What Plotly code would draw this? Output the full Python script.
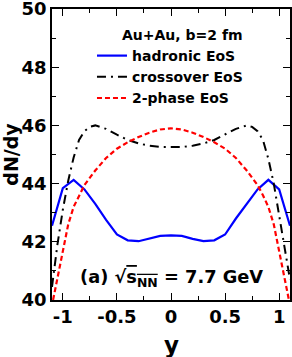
import plotly.graph_objects as go

# Rapidity grid and dN/dy values
y_had = [-1.1, -1.0, -0.9, -0.8, -0.7, -0.6, -0.5, -0.4, -0.3, -0.2, -0.1, 0.0,
         0.1, 0.2, 0.3, 0.4, 0.5, 0.6, 0.7, 0.8, 0.9, 1.0, 1.1]
dndy_had = [42.55, 43.84, 44.13, 43.8, 43.3, 42.75, 42.25, 42.05, 42.02, 42.1, 42.2, 42.22,
            42.2, 42.1, 42.02, 42.05, 42.25, 42.8, 43.3, 43.8, 44.13, 43.8, 42.55]

y_cross = [-1.1, -1.05, -1.0, -0.95, -0.9, -0.85, -0.8, -0.75, -0.7, -0.6, -0.5, -0.4, -0.3,
           -0.2, -0.1, 0.0, 0.1, 0.2, 0.3, 0.4, 0.5, 0.6, 0.7, 0.75, 0.8, 0.85, 0.9, 0.95,
           1.0, 1.05, 1.1]
dndy_cross = [40.45, 41.9, 43.1, 44.1, 44.9, 45.5, 45.8, 45.95, 46.0, 45.88, 45.68, 45.5, 45.38,
              45.3, 45.26, 45.25, 45.26, 45.3, 45.38, 45.5, 45.68, 45.88, 46.0, 45.95, 45.8,
              45.5, 44.85, 44.0, 42.9, 41.8, 40.7]

y_2ph = [-1.09, -1.05, -1.0, -0.95, -0.9, -0.85, -0.8, -0.7, -0.6, -0.5, -0.4, -0.3, -0.2, -0.1,
         0.0, 0.1, 0.2, 0.3, 0.4, 0.5, 0.6, 0.7, 0.8, 0.85, 0.9, 0.95, 1.0, 1.05, 1.09]
dndy_2ph = [40.0, 40.75, 41.7, 42.6, 43.2, 43.6, 43.95, 44.45, 44.88, 45.2, 45.42, 45.6, 45.75, 45.86,
            45.9, 45.86, 45.75, 45.6, 45.42, 45.2, 44.88, 44.45, 43.95, 43.6, 43.2, 42.6, 41.7, 40.75, 40.0]

x_ticks = [-1, -0.5, 0, 0.5, 1]
x_ticklabels = ["-1", "-0.5", "0", "0.5", "1"]
y_ticks = [40, 42, 44, 46, 48, 50]

FONT = "DejaVu Sans"

fig = go.Figure()
fig.add_trace(go.Scatter(x=y_had, y=dndy_had, mode="lines", name="hadronic EoS",
                         line=dict(color="#0000ff", width=2.2)))
fig.add_trace(go.Scatter(x=y_cross, y=dndy_cross, mode="lines", name="crossover EoS",
                         line=dict(color="black", width=2, dash="9px,5px,2px,5px")))
fig.add_trace(go.Scatter(x=y_2ph, y=dndy_2ph, mode="lines", name="2-phase EoS",
                         line=dict(color="#ff0000", width=2.2, dash="5px,3px")))

axis_common = dict(
    showline=True, linecolor="black", linewidth=1.5, mirror="ticks",
    ticks="inside", ticklen=7, tickwidth=1.3, tickcolor="black",
    showgrid=False, zeroline=False, automargin=False, ticklabeloverflow="allow",
    tickfont=dict(family=FONT, size=18, color="black", weight="bold"),
)

fig.update_xaxes(range=[-1.1, 1.1], tickvals=x_ticks, ticktext=x_ticklabels,
                 minor=dict(dtick=0.25, tick0=0, ticks="inside", ticklen=4, tickwidth=1.2, tickcolor="black"),
                 **axis_common)
fig.update_yaxes(range=[39.999, 50.001], tickvals=y_ticks,
                 minor=dict(dtick=1, tick0=0, ticks="inside", ticklen=4, tickwidth=1.2, tickcolor="black"),
                 title=dict(text="dN/dy", font=dict(family=FONT, size=19, color="black", weight="bold"), standoff=2),
                 **axis_common)

# x-axis title
fig.add_annotation(text="y", xref="x", yref="paper", x=0, y=1 - (345 - 9) / 291,
                   xanchor="center", yanchor="middle", showarrow=False,
                   font=dict(family=FONT, size=23, color="black", weight="bold"))
fig.add_annotation(text="Au+Au, b=2 fm", xref="paper", yref="paper", x=0.285, y=1 - (35 - 9) / 291,
                   xanchor="left", yanchor="middle", showarrow=False,
                   font=dict(family=FONT, size=14, color="black", weight="bold"))
fig.add_annotation(text="(a) √<span style='text-decoration:overline'>s<sub>NN</sub></span> = 7.7 GeV",
                   xref="x", yref="paper", x=0, y=1 - (278 - 9) / 291,
                   xanchor="center", yanchor="middle", showarrow=False,
                   font=dict(family=FONT, size=17.8, color="black", weight="bold"))

fig.update_layout(
    width=292, height=357,
    margin=dict(l=52, r=2, t=9, b=57, autoexpand=False),
    paper_bgcolor="white", plot_bgcolor="white",
    showlegend=True,
    legend=dict(x=0.168, y=1 - (40 - 9) / 291, xanchor="left", yanchor="top",
                bgcolor="rgba(0,0,0,0)", borderwidth=0, tracegroupgap=0,
                font=dict(family=FONT, size=14, color="black", weight="bold")),
)

fig.write_html("out.html", config={"displayModeBar": False},
               post_script="document.body.style.margin='0';document.body.style.overflow='hidden';")
